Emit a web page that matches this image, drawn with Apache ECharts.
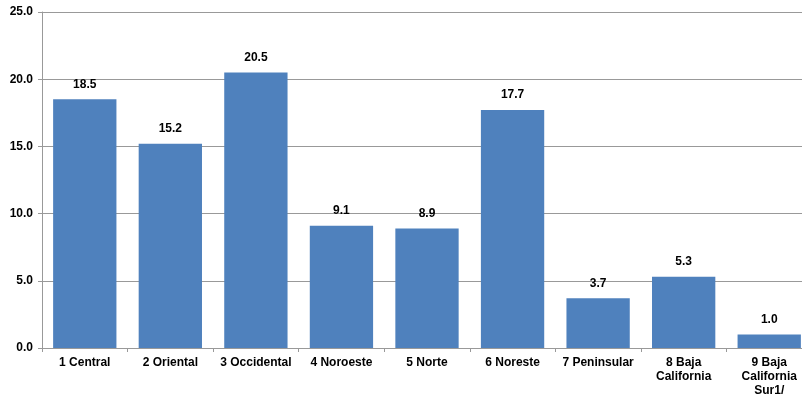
<!DOCTYPE html>
<html>
<head>
<meta charset="utf-8">
<script src="https://cdn.jsdelivr.net/npm/echarts@6/dist/echarts.min.js"></script>
<style>
  html, body { margin: 0; padding: 0; background: #fff; overflow: hidden; }
  #chart { width: 812px; height: 401px; }
</style>
</head>
<body>
<div id="chart"></div>
<script>
// Regions and their values
const regions = [
  '1 Central', '2 Oriental', '3 Occidental', '4 Noroeste', '5 Norte',
  '6 Noreste', '7 Peninsular', '8 Baja\nCalifornia', '9 Baja\nCalifornia\nSur1/'
];
const values = [18.5, 15.2, 20.5, 9.1, 8.9, 17.7, 3.7, 5.3, 1.0];

// Value axis settings
const yMin = 0;
const yMax = 25;
const yStep = 5;

const font = 'Liberation Sans, Arial, sans-serif';
const chart = echarts.init(document.getElementById('chart'));
chart.setOption({
  animation: false,
  backgroundColor: '#ffffff',
  grid: { left: 42, right: 0, top: 12, bottom: 53, containLabel: false },
  xAxis: {
    type: 'category',
    data: regions,
    axisLine: { show: true, lineStyle: { color: '#999999', width: 1 } },
    axisTick: { show: true, length: 4, lineStyle: { color: '#999999' } },
    axisLabel: {
      color: '#000', fontFamily: font, fontWeight: 'bold', fontSize: 12,
      interval: 0, margin: 8, lineHeight: 14
    }
  },
  yAxis: {
    type: 'value',
    min: yMin, max: yMax, interval: yStep,
    axisLine: { show: true, lineStyle: { color: '#999999', width: 1 } },
    axisTick: { show: true, length: 4, lineStyle: { color: '#999999' } },
    splitLine: { show: true, lineStyle: { color: '#999999', width: 1 } },
    axisLabel: {
      color: '#000', fontFamily: font, fontWeight: 'bold', fontSize: 12,
      margin: 9, formatter: v => v.toFixed(1)
    }
  },
  series: [{
    type: 'bar',
    data: values,
    barCategoryGap: '26%',
    itemStyle: { color: '#4f81bd' },
    label: {
      show: true, position: 'top', distance: 9,
      color: '#000', fontFamily: font, fontWeight: 'bold', fontSize: 12,
      formatter: p => p.value.toFixed(1)
    }
  }]
});
</script>
</body>
</html>
